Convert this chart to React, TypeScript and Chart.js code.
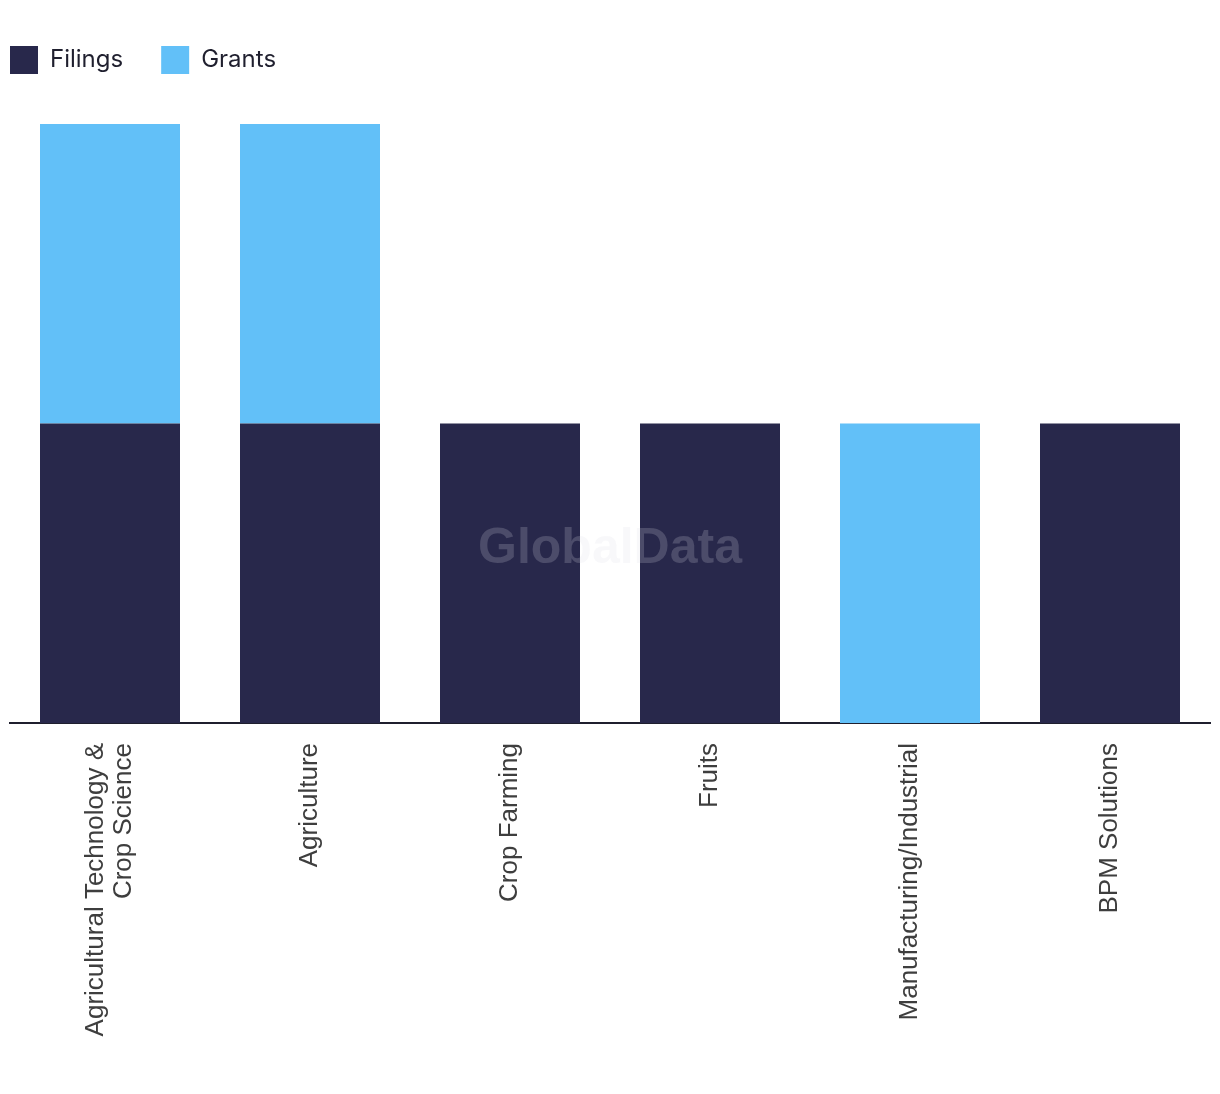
import React, { useEffect, useRef } from "react";
import { Chart, registerables } from "chart.js";

Chart.register(...registerables);

const categories: (string | string[])[] = [
  ["Agricultural Technology &", "Crop Science"],
  "Agriculture",
  "Crop Farming",
  "Fruits",
  "Manufacturing/Industrial",
  "BPM Solutions",
];
const filings = [1, 1, 1, 1, 0, 1];
const grants = [1, 1, 0, 0, 1, 0];
const seriesNames = ["Filings", "Grants"];
const colors = ["#28284B", "#62C0F8"];
const watermark = "GlobalData";

const TICK_SIZE = 26;
const TICK_LH = 1.08;

export default function App() {
  const ref = useRef<HTMLCanvasElement | null>(null);
  useEffect(() => {
    if (!ref.current) return;
    const legendPatch = {
      id: "legendPatch",
      beforeLayout(chart: any) {
        const lg = chart.legend;
        if (lg && !lg.__patched) {
          const orig = lg.fit.bind(lg);
          lg.fit = function () {
            orig();
            this.height += 40;
          };
          lg.__patched = true;
        }
      },
      afterLayout(chart: any) {
        const sc = chart.scales.x;
        if (sc && !sc.__patched) {
          const orig = sc._computeLabelItems.bind(sc);
          sc._computeLabelItems = function (ca: any) {
            const items = orig(ca);
            const lh = TICK_SIZE * TICK_LH;
            items.forEach((it: any) => {
              const n = Array.isArray(it.label) ? it.label.length : 1;
              if (n > 1 && it.options && it.options.translation) {
                it.options.translation[0] -= ((n - 1) * lh) / 2;
              }
            });
            return items;
          };
          sc.__patched = true;
          sc._labelItems = null;
        }
      },
    };
    const wm = {
      id: "wm",
      afterDatasetsDraw(chart: any) {
        const ctx = chart.ctx;
        ctx.save();
        ctx.font = 'bold 50px "Liberation Sans", Arial, sans-serif';
        ctx.fillStyle = "rgba(220,220,232,0.2)";
        ctx.textAlign = "center";
        ctx.textBaseline = "middle";
        ctx.fillText(watermark, chart.width / 2, 549);
        ctx.restore();
      },
    };
    const chart = new Chart(ref.current, {
      type: "bar",
      data: {
        labels: categories,
        datasets: [
          { label: seriesNames[0], data: filings, backgroundColor: colors[0], borderWidth: 0, barPercentage: 0.7, categoryPercentage: 1 },
          { label: seriesNames[1], data: grants, backgroundColor: colors[1], borderWidth: 0, barPercentage: 0.7, categoryPercentage: 1 },
        ],
      },
      options: {
        responsive: false,
        animation: false,
        layout: { padding: { left: -28, right: 10, top: 8, bottom: 0 } },
        plugins: {
          legend: {
            position: "top",
            align: "start",
            labels: {
              boxWidth: 28,
              boxHeight: 28,
              padding: 38,
              color: "#1F1F2E",
              font: { family: "Inter, 'Liberation Sans', sans-serif", size: 24 },
            },
          },
          tooltip: { enabled: false },
        },
        scales: {
          x: {
            stacked: true,
            grid: { display: false, drawTicks: false },
            border: { display: true, color: "#1F1F2E", width: 2 },
            ticks: {
              autoSkip: false,
              maxRotation: 90,
              minRotation: 90,
              padding: 20,
              color: "#3E3E3E",
              font: { family: "'Liberation Sans', Arial, sans-serif", size: TICK_SIZE, lineHeight: TICK_LH },
            },
            afterFit(s: any) {
              s.height = 371;
            },
          },
          y: {
            stacked: true,
            min: 0,
            max: 2,
            display: true,
            grid: { display: false, drawTicks: false },
            border: { display: false },
            ticks: { display: false },
            afterFit(s: any) {
              s.width = 38;
            },
          },
        },
      },
      plugins: [legendPatch, wm],
    } as any);
    return () => chart.destroy();
  }, []);
  return (
    <div style={{ position: "absolute", left: 0, top: 0, width: 1220, height: 1094, background: "#fff" }}>
      <canvas ref={ref} width={1220} height={1094} style={{ display: "block" }} />
    </div>
  );
}
